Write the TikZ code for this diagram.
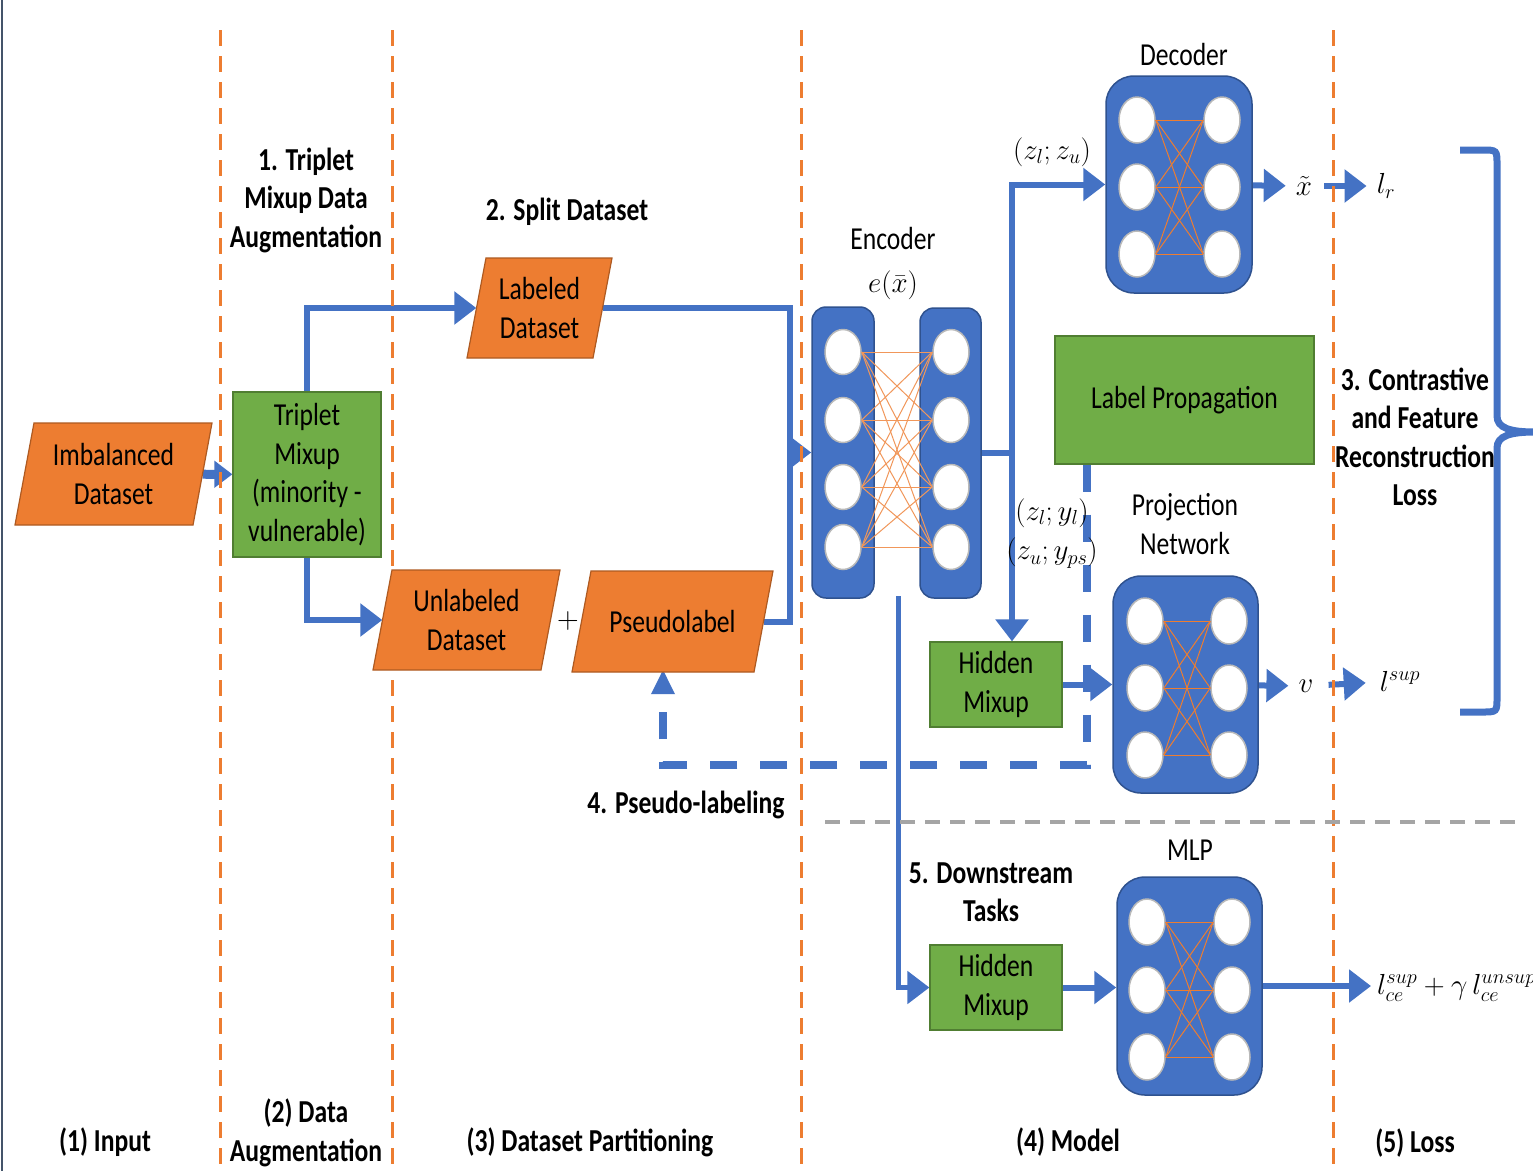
\RequirePackage{fix-cm}
\documentclass[tikz,border=0pt]{standalone}
\usepackage{fontspec}
\setmainfont{Carlito}[FakeStretch=0.8]
\usetikzlibrary{arrows.meta,shapes.geometric,calc}
\definecolor{bl}{HTML}{4472C4}
\definecolor{bld}{HTML}{2F528F}
\definecolor{org}{HTML}{ED7D31}
\definecolor{orgd}{HTML}{AE5A21}
\definecolor{grn}{HTML}{70AD47}
\definecolor{grnd}{HTML}{507E32}
\definecolor{gry}{HTML}{A5A5A5}
\definecolor{edgec}{HTML}{44546A}
\newcommand\nf{\fontsize{32}{38.5}\selectfont}
\newcommand\bfnt{\fontsize{32}{38.5}\selectfont\bfseries}
\newcommand\mf{\fontsize{29}{34}\selectfont}
\pgfdeclarelayer{bg}
\pgfsetlayers{bg,main}
\tikzset{
 arr/.style={draw=bl,line width=6pt,-{Triangle[length=22pt,width=32pt]}},
 bline/.style={draw=bl,line width=6pt},
 sarr/.style={draw=bl,line width=9pt,-{Triangle[length=18pt,width=26pt]}},
 dsh/.style={draw=bl,line width=8pt,dash pattern=on 27pt off 23pt,-{Triangle[length=25pt,width=22pt]}},
 odash/.style={draw=org,line width=3pt,dash pattern=on 16pt off 10pt},
 gdash/.style={draw=gry,line width=3.5pt,dash pattern=on 15pt off 10pt},
 ptext/.style={rectangle,inner sep=0pt,align=center,font=\nf},
 gbox/.style={rectangle,fill=grn,draw=grnd,line width=1.2pt,inner sep=0pt,align=center,font=\nf},
 net/.style={rectangle,rounded corners=28pt,fill=bl,draw=bld,line width=1.5pt,inner sep=0pt},
 cir/.style={ellipse,fill=white,draw=gray!55,line width=1.5pt,minimum width=36pt,minimum height=46pt,inner sep=0pt},
 wire/.style={draw=org,line width=1pt},
 lbl/.style={font=\nf,align=center},
 blbl/.style={font=\bfnt,align=center},
 mlbl/.style={font=\mf,inner sep=2pt},
}
% parallelogram box: name, x, y, bounding width, height, text
\newcommand\parabox[6]{%
  \fill[org,draw=orgd,line width=1.2pt] ({#2-#4/2+19},{#3-#5/2}) -- ({#2+#4/2},{#3-#5/2})
     -- ({#2+#4/2-19},{#3+#5/2}) -- ({#2-#4/2},{#3+#5/2}) -- cycle;
  \node[ptext,minimum width={#4-19},minimum height=#5] (#1) at (#2,#3) {#6};
}
\begin{document}
\begin{tikzpicture}[x=1pt,y=-1pt]
\useasboundingbox (0,0) rectangle (1533,1171);

% ---------- boxes ----------
\parabox{imb}{113.5}{474}{197}{102}{Imbalanced\\Dataset}
\node[gbox,minimum width=148pt,minimum height=165pt] (trip) at (307,474.5) {Triplet\\Mixup\\(minority -\\vulnerable)};
\parabox{lab}{539.5}{308}{145}{100}{Labeled\\Dataset}
\parabox{unl}{466.5}{620}{187}{100}{Unlabeled\\Dataset}
\node[font=\fontsize{30}{30}\selectfont,inner sep=0pt] (plus) at (568,621) {$+$};
\parabox{pseudo}{672.5}{621.5}{201}{101}{Pseudolabel}

% encoder
\node[net,rounded corners=14pt,minimum width=62pt,minimum height=291pt] (encL) at (843,452.5) {};
\node[net,rounded corners=14pt,minimum width=61pt,minimum height=290pt] (encR) at (950.5,453) {};
\foreach \i/\y in {1/352,2/420,3/487,4/547}{
  \node[cir,minimum height=45pt] (eL\i) at (843,\y) {};
  \node[cir,minimum height=45pt] (eR\i) at (951,\y) {};
}
\foreach \i in {1,2,3,4}{\foreach \j in {1,2,3,4}{\draw[wire,draw=org!80] (eL\i.east) -- (eR\j.west);}}
\node[lbl,inner sep=0pt] (enct) at (893,238) {Encoder};
\node[mlbl,inner sep=0pt] (encm) at (893,285) {$e(\bar{x})$};

% decoder
\node[net,minimum width=146pt,minimum height=217pt] (dec) at (1179,184.5) {};
\foreach \i/\y in {1/120,2/187,3/254}{
  \node[cir] (dL\i) at (1137,\y) {};
  \node[cir] (dR\i) at (1222,\y) {};
}
\foreach \i in {1,2,3}{\foreach \j in {1,2,3}{\draw[wire] (dL\i.east) -- (dR\j.west);}}
\node[lbl] (dect) at (1184,54) {Decoder};

% label propagation
\node[gbox,minimum width=259pt,minimum height=128pt] (lp) at (1184.5,400) {Label Propagation};

% projection network
\node[net,minimum width=145pt,minimum height=217pt] (proj) at (1185.5,684.5) {};
\foreach \i/\y in {1/621,2/688,3/755}{
  \node[cir] (pL\i) at (1145,\y) {};
  \node[cir] (pR\i) at (1229,\y) {};
}
\foreach \i in {1,2,3}{\foreach \j in {1,2,3}{\draw[wire] (pL\i.east) -- (pR\j.west);}}
\node[lbl] (projt) at (1185,524) {Projection\\Network};

% MLP
\node[net,minimum width=145pt,minimum height=218pt] (mlp) at (1189.5,986) {};
\foreach \i/\y in {1/922,2/990,3/1057}{
  \node[cir] (mL\i) at (1147,\y) {};
  \node[cir] (mR\i) at (1232,\y) {};
}
\foreach \i in {1,2,3}{\foreach \j in {1,2,3}{\draw[wire] (mL\i.east) -- (mR\j.west);}}
\node[lbl] (mlpt) at (1190,850) {MLP};

% hidden mixups
\node[gbox,minimum width=132pt,minimum height=85pt] (hm1) at (996,684.5) {Hidden\\Mixup};
\node[gbox,minimum width=132pt,minimum height=85pt] (hm2) at (996,987.5) {Hidden\\Mixup};

% math labels
\node[mlbl] (zz) at (1052,152) {$(z_l;z_u)$};
\node[mlbl] (zy1) at (1052,513) {$(z_l;y_l)$};
\node[mlbl] (zy2) at (1052,553) {$\bigl(z_u;y_{ps}\bigr)$};
\node[mlbl] (xt) at (1304,186) {$\tilde{x}$};
\node[mlbl] (lr) at (1386,186) {$l_r$};
\node[mlbl] (vv) at (1306,686) {$v$};
\node[mlbl] (lsup) at (1400,681) {$l^{sup}$};
\node[mlbl,anchor=west] (lce) at (1375,988) {$l_{ce}^{sup}+\gamma\, l_{ce}^{unsup}$};

% bold labels
\node[blbl] (t1) at (306,200) {1. Triplet\\Mixup Data\\Augmentation};
\node[blbl] (t2) at (567,212) {2. Split Dataset};
\node[blbl] (t3) at (1415,437) {3. Contrastive\\and Feature\\Reconstruction\\Loss};
\node[blbl] (t4) at (686,805) {4. Pseudo-labeling};
\node[blbl] (t5) at (991,892) {5. Downstream\\Tasks};
\node[blbl] (b1) at (105,1142) {(1) Input};
\node[blbl] (b2) at (306,1133) {(2) Data\\Augmentation};
\node[blbl] (b3) at (590,1142) {(3) Dataset Partitioning};
\node[blbl] (b4) at (1068,1142) {(4) Model};
\node[blbl] (b5) at (1415,1143) {(5) Loss};

% ---------- connectors (behind) ----------
\begin{pgfonlayer}{bg}
\fill[white] (0,0) rectangle (1533,1171);
\draw[edgec,line width=2pt] (2,0) -- (2,1171);
\coordinate (j) at (790,452.5);
\coordinate (k) at (1012,453);
\coordinate (m) at (898,596);
\path (lp.south) ++(-97.5,0) coordinate (lpb);
\coordinate (dc) at (663,765);

\draw[sarr] (imb) -- (trip);
\draw[arr] (trip.north) |- (lab);
\draw[arr] (trip.south) |- (unl);
\draw[bline] (lab) -| (j);
\draw[bline] (pseudo) -| (j);
\draw[arr] (j) -- (encL);
\draw[bline] (encR.east) -- (k);
\draw[arr] (k) |- (dec);
\draw[arr] (k) -- (k |- hm1.north);
\draw[arr,line width=5pt] (m) |- (hm2);
\draw[arr] (hm1) -- (proj);
\draw[arr] (hm2.east) -- (hm2.east -| mlp.west);
\draw[arr,shorten >=8pt] (dec) -- (xt);
\draw[arr,shorten <=10pt,shorten >=8pt] (xt) -- (lr);
\draw[arr,shorten >=8pt] (proj) -- (vv);
\draw[arr,shorten <=13pt,shorten >=12pt] (vv) -- (lsup);
\draw[arr] (mlp.east) -- ([xshift=-4pt]mlp.east -| lce.west);
\draw[dsh,shorten >=-3pt] (lpb) |- (dc) -- (dc |- pseudo.south);

% brace
\draw[bl,line width=7pt] (1460,150) -- (1482,150) .. controls (1497,150) .. (1497,165) -- (1497,416)
  .. controls (1497,428) and (1510,432) .. (1535,432)
  .. controls (1510,432) and (1497,436) .. (1497,448) -- (1497,697)
  .. controls (1497,712) .. (1482,712) -- (1460,712);

\foreach \x in {220,392,801,1333} \draw[odash] (\x,30) -- (\x,1171);
\draw[gdash] (825,822) -- (1520,822);
\end{pgfonlayer}
\end{tikzpicture}
\end{document}
